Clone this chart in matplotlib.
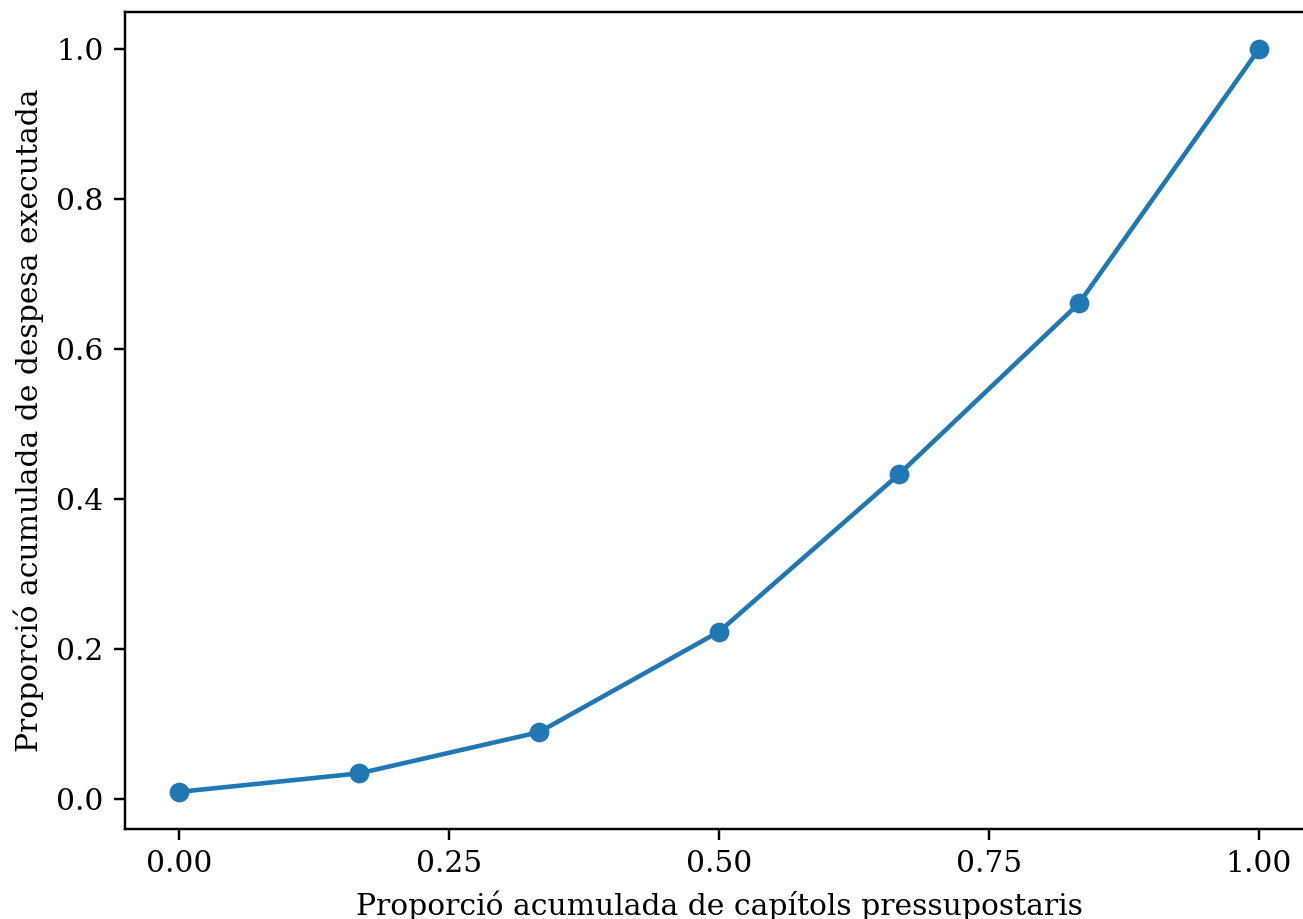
import matplotlib
matplotlib.use("Agg")
import matplotlib.pyplot as plt
import numpy as np

x_vals = [0.0, 1/6, 2/6, 3/6, 4/6, 5/6, 1.0]
y_vals = [0.0094, 0.034, 0.089, 0.223, 0.433, 0.661, 1.0]
x_label = "Proporció acumulada de capítols pressupostaris"
y_label = "Proporció acumulada de despesa executada"

S = 2.2
FS = 10 * 2.14
plt.rcParams['font.family'] = ['DejaVu Serif']
plt.rcParams['font.size'] = FS

W, H = 1303, 919
fig = plt.figure(figsize=(W / 100, H / 100), dpi=100)
left, right, top, bottom = 125, 1313, 12, 829
ax = fig.add_axes([left / W, (H - bottom) / H, (right - left) / W, (bottom - top) / H])
ax.plot(x_vals, y_vals, marker='o', color='#1f77b4', linewidth=1.5 * S, markersize=6 * S)
ax.set_xlim(-0.05, 1.05)
ax.set_xticks([0.0, 0.25, 0.5, 0.75, 1.0])
ax.set_yticks([0.0, 0.2, 0.4, 0.6, 0.8, 1.0])
ax.set_xlabel(x_label, labelpad=4 * S)
ax.set_ylabel(y_label, labelpad=4 * S)
ax.spines['right'].set_visible(False)
for s in ax.spines.values():
    s.set_linewidth(0.8 * S)
ax.tick_params(length=3.5 * S, width=0.8 * S, pad=3.5 * S)
fig.savefig("out.png", dpi=100)
